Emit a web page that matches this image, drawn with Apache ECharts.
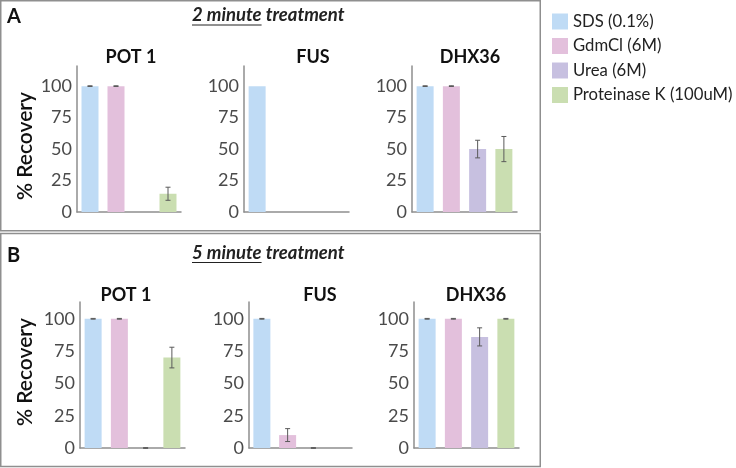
<!DOCTYPE html>
<html><head><meta charset="utf-8">
<script src="https://cdn.jsdelivr.net/npm/echarts@6/dist/echarts.min.js"></script>
<style>html,body{margin:0;padding:0;background:#fff}#c{width:736px;height:468px}</style>
</head><body><div id="c"></div>
<script>
// ---- data ----
const treatments = ['SDS (0.1%)', 'GdmCl (6M)', 'Urea (6M)', 'Proteinase K (100uM)'];
const proteins = ['POT 1', 'FUS', 'DHX36'];
const yTicks = [0, 25, 50, 75, 100];
// 2 minute treatment
const min2_POT1 = [100, 100, 0, 14.5];
const min2_POT1_err = [0.3, 0.3, null, 5.2];
const min2_FUS = [100, 0, 0, 0];
const min2_FUS_err = [null, null, null, null];
const min2_DHX36 = [100, 100, 50, 50];
const min2_DHX36_err = [0.3, 0.3, 7, 10];
// 5 minute treatment
const min5_POT1 = [100, 100, 0, 70];
const min5_POT1_err = [0.3, 0.3, 0.3, 8];
const min5_FUS = [100, 10, 0, 0];
const min5_FUS_err = [0.3, 5, 0.3, null];
const min5_DHX36 = [100, 100, 86, 100];
const min5_DHX36_err = [0.3, 0.3, 7, 0.3];

const panelValues = [min2_POT1, min2_FUS, min2_DHX36, min5_POT1, min5_FUS, min5_DHX36];
const panelErrors = [min2_POT1_err, min2_FUS_err, min2_DHX36_err, min5_POT1_err, min5_FUS_err, min5_DHX36_err];

// ---- styling / layout ----
const colors = ['#bfdbf5', '#e3c0dc', '#c7c0e0', '#cadeb1'];
const FONT = 'Lato, "Open Sans", sans-serif';
const grids = [
  {left: 77, top: 66, width: 104, height: 146},
  {left: 244, top: 66, width: 105, height: 146},
  {left: 412, top: 66, width: 105, height: 146},
  {left: 80, top: 302, width: 105, height: 146},
  {left: 249, top: 302, width: 103, height: 146},
  {left: 414, top: 302, width: 105, height: 146}
];
const yMax = [116, 116, 116, 113, 113, 113];
const titlePos = [[131, 57], [313, 57], [470, 57], [126, 295], [320, 295], [476, 295]];

const axisColor = '#8e8e8e';
const xAxes = [], yAxes = [], series = [];
grids.forEach((g, i) => {
  xAxes.push({gridIndex: i, type: 'category', data: treatments,
    axisLine: {lineStyle: {color: axisColor, width: 1.5}}, axisTick: {show: false}, axisLabel: {show: false}});
  yAxes.push({gridIndex: i, type: 'value', min: 0, max: yMax[i], interval: 25,
    axisLine: {show: true, lineStyle: {color: axisColor, width: 1.5}}, axisTick: {show: false},
    splitLine: {show: false},
    axisLabel: {fontSize: 18, color: '#4a4a4a', fontFamily: FONT, margin: 5, showMaxLabel: false,
      formatter: v => yTicks.indexOf(v) >= 0 ? String(v) : ''}});
  treatments.forEach((t, k) => {
    series.push({type: 'bar', name: t, xAxisIndex: i, yAxisIndex: i, barWidth: 17, barGap: '-100%',
      itemStyle: {color: colors[k]}, silent: true,
      data: panelValues[i].map((v, j) => j === k ? v : '-')});
  });
  const errData = [];
  panelValues[i].forEach((v, j) => {
    const e = panelErrors[i][j];
    if (e !== null && e !== undefined) errData.push([j, v - e, v + e]);
  });
  series.push({type: 'custom', xAxisIndex: i, yAxisIndex: i, silent: true, z: 10,
    encode: {x: 0, y: [1, 2]}, data: errData,
    renderItem: (params, api) => {
      const x = api.value(0);
      const lo = api.coord([x, api.value(1)]);
      const hi = api.coord([x, api.value(2)]);
      const hw = 2.5;
      const st = {stroke: '#5a5a5a', lineWidth: 1};
      return {type: 'group', children: [
        {type: 'line', shape: {x1: lo[0], y1: lo[1], x2: hi[0], y2: hi[1]}, style: st},
        {type: 'line', shape: {x1: lo[0] - hw, y1: lo[1], x2: lo[0] + hw, y2: lo[1]}, style: st},
        {type: 'line', shape: {x1: hi[0] - hw, y1: hi[1], x2: hi[0] + hw, y2: hi[1]}, style: st}
      ]};
    }});
});

// measure underline width
const cv = document.createElement('canvas').getContext('2d');
const subFont = 'italic 700 18.5px ' + FONT;
cv.font = subFont;
const ulW = cv.measureText('2 minute').width;

const graphic = [
  {type: 'rect', shape: {x: 0.75, y: 0.75, width: 539.5, height: 230}, style: {fill: 'none', stroke: '#8f8f8f', lineWidth: 1.5}},
  {type: 'rect', shape: {x: 0.75, y: 233.5, width: 539.5, height: 233}, style: {fill: 'none', stroke: '#8f8f8f', lineWidth: 1.5}},
  {type: 'text', x: 7, y: 17, style: {text: 'A', font: 'bold 20px ' + FONT, fill: '#111', verticalAlign: 'middle'}},
  {type: 'text', x: 7, y: 256, style: {text: 'B', font: 'bold 20px ' + FONT, fill: '#111', verticalAlign: 'middle'}},
  {type: 'text', x: 192, y: 15.5, style: {text: '2 minute treatment', font: subFont, fill: '#222', verticalAlign: 'middle'}},
  {type: 'line', shape: {x1: 192, y1: 25, x2: 192 + ulW, y2: 25}, style: {stroke: '#222', lineWidth: 1}},
  {type: 'text', x: 192, y: 253, style: {text: '5 minute treatment', font: subFont, fill: '#222', verticalAlign: 'middle'}},
  {type: 'line', shape: {x1: 192, y1: 262.5, x2: 192 + ulW, y2: 262.5}, style: {stroke: '#222', lineWidth: 1}},
  {type: 'text', x: 25, y: 146, rotation: Math.PI / 2, style: {text: '% Recovery', font: '600 21px ' + FONT, fill: '#111', align: 'center', verticalAlign: 'middle'}},
  {type: 'text', x: 25, y: 372, rotation: Math.PI / 2, style: {text: '% Recovery', font: '600 21px ' + FONT, fill: '#111', align: 'center', verticalAlign: 'middle'}}
];
titlePos.forEach((p, i) => {
  graphic.push({type: 'text', x: p[0], y: p[1], style: {text: proteins[i % 3], font: 'bold 18px ' + FONT, fill: '#111', align: 'center', verticalAlign: 'middle'}});
});

const chart = echarts.init(document.getElementById('c'), null, {renderer: 'canvas'});
chart.setOption({
  animation: false,
  backgroundColor: '#fff',
  grid: grids,
  xAxis: xAxes,
  yAxis: yAxes,
  legend: {orient: 'vertical', left: 552, top: 13, itemWidth: 16, itemHeight: 16, itemGap: 7.5,
    icon: 'rect', data: treatments, selectedMode: false, padding: 0,
    textStyle: {fontSize: 16.7, color: '#222', fontFamily: FONT}},
  series: series,
  graphic: graphic
});
</script></body></html>
